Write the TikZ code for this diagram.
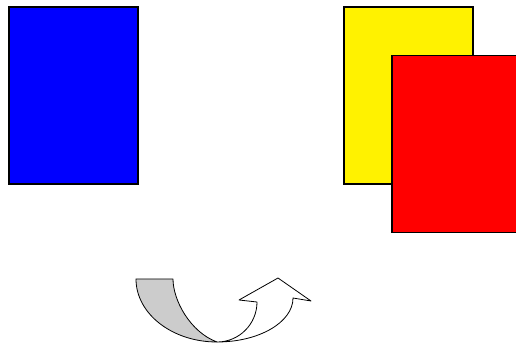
\documentclass[tikz,border=0pt]{standalone}
\begin{document}
\begin{tikzpicture}[x=0.75pt,y=-0.75pt,
  card/.style={draw=black, line width=0.8pt, inner sep=0pt, minimum width=96.75pt, minimum height=132.75pt},
  arr/.style={draw=black, line width=0.6pt, line join=round}]
\useasboundingbox (0,0) rectangle (516,348);
\node[card, fill=blue] (blue) at (73.5,95.5) {};
\node[card, fill=yellow] (yellow) at (408.5,95.5) {};
\node[card, fill=red] (red) at (456.5,144) {};
% curved arrow
\coordinate (gA) at (137,279);
\coordinate (gB) at (173,279);
\coordinate (bot) at (217,342);
\filldraw[arr, fill=black!20] (gA) -- (gB)
  .. controls (173,300) and (190,332) .. (bot)
  arc[start angle=90, end angle=180, x radius=81, y radius=63] -- cycle;
\filldraw[arr, fill=white] (bot)
  arc[start angle=90, end angle=0, x radius=76, y radius=44]
  coordinate (oR) -- (311,301) coordinate (rt) -- (278,278) coordinate (tip)
  -- (239,300) coordinate (lt) -- (257,302) coordinate (iL)
  arc[start angle=0, end angle=90, x radius=40, y radius=40] -- cycle;
\end{tikzpicture}
\end{document}
